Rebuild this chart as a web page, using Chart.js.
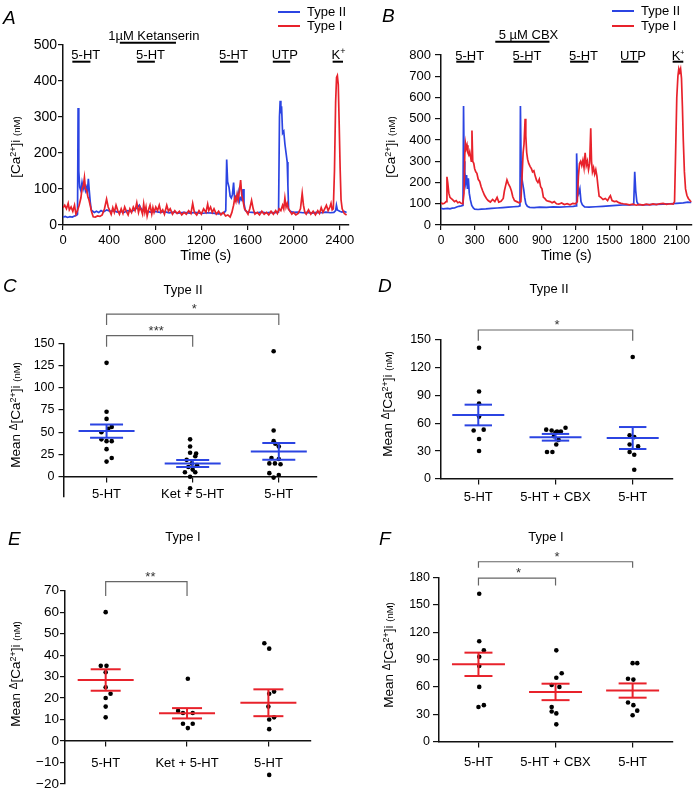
<!DOCTYPE html>
<html>
<head>
<meta charset="utf-8">
<title>Ca2+ responses of type I and type II cells</title>
<script src="https://cdn.jsdelivr.net/npm/chart.js@4.4.1/dist/chart.umd.min.js"></script>
<style>
  body { margin: 0; background: #fff; }
  #fig { position: relative; width: 700px; height: 793px; overflow: hidden; background: #fff; }
  #fig canvas { position: absolute; }
</style>
</head>
<body>
<div id="fig">
  <canvas id="chartA" width="370" height="270" style="left:0;top:0"></canvas>
  <canvas id="chartB" width="350" height="270" style="left:350px;top:0"></canvas>
  <canvas id="chartC" width="350" height="250" style="left:0;top:270px"></canvas>
  <canvas id="chartD" width="350" height="250" style="left:350px;top:270px"></canvas>
  <canvas id="chartE" width="350" height="273" style="left:0;top:520px"></canvas>
  <canvas id="chartF" width="350" height="273" style="left:350px;top:520px"></canvas>
</div>
<script>
const FONT = "'Liberation Sans', Arial, Helvetica, sans-serif";
const BLUE = "#2b44e2";
const RED = "#e8222b";
const INK = "#111";

// ---- A: ketanserin run, [time s, Ca nM]
const aTypeII = [[0,22],[20,24],[40,21],[60,23],[80,22],[100,25],[118,27],[126,30],[131,325],[137,150],[145,105],[155,95],[165,118],[175,100],[185,112],[195,95],[205,105],[212,92],[220,128],[228,95],[236,65],[245,42],[258,38],[272,35],[290,38],[310,35],[330,40],[350,36],[380,42],[410,38],[440,40],[470,36],[500,38],[530,35],[560,40],[590,37],[620,42],[645,48],[662,55],[678,45],[700,40],[730,38],[760,36],[800,38],[840,35],[880,37],[920,34],[960,36],[1000,33],[1050,35],[1100,33],[1150,35],[1200,32],[1250,34],[1300,33],[1350,31],[1395,33],[1412,40],[1420,182],[1428,120],[1440,105],[1450,80],[1460,75],[1470,85],[1480,118],[1488,75],[1500,80],[1510,70],[1520,90],[1530,65],[1540,75],[1550,70],[1562,100],[1570,60],[1582,40],[1600,36],[1640,35],[1680,34],[1720,36],[1760,34],[1800,35],[1840,34],[1870,36],[1878,300],[1884,345],[1890,310],[1896,330],[1905,255],[1915,260],[1925,225],[1935,200],[1945,175],[1951,110],[1957,45],[1970,38],[2000,35],[2040,36],[2080,34],[2120,35],[2160,33],[2200,35],[2240,34],[2280,36],[2320,34],[2350,35],[2365,40],[2372,55],[2380,42],[2400,38],[2420,36],[2440,38],[2460,35]];
const aTypeI = [[0,48],[15,55],[30,45],[45,60],[55,42],[70,50],[85,38],[100,55],[112,30],[125,40],[140,55],[155,75],[165,100],[177,110],[186,132],[195,100],[205,97],[215,80],[225,70],[235,56],[248,37],[262,23],[280,22],[300,25],[320,24],[340,28],[360,45],[378,72],[392,50],[405,40],[418,30],[432,48],[445,35],[460,55],[475,40],[490,30],[505,45],[520,32],[535,50],[550,38],[565,28],[580,45],[595,35],[610,50],[625,40],[640,62],[655,35],[667,50],[680,40],[690,30],[700,58],[710,35],[720,50],[730,25],[745,45],[755,55],[770,30],[780,48],[790,35],[805,50],[820,40],[835,55],[850,35],[865,42],[880,30],[900,55],[915,38],[930,45],[950,30],[970,40],[990,32],[1010,38],[1030,28],[1050,35],[1070,30],[1090,40],[1110,32],[1125,60],[1140,35],[1160,28],[1180,40],[1200,30],[1220,45],[1240,35],[1255,58],[1265,40],[1280,50],[1295,35],[1310,45],[1330,30],[1350,38],[1370,28],[1390,35],[1410,25],[1430,28],[1450,22],[1465,35],[1480,55],[1490,75],[1500,65],[1510,85],[1520,70],[1530,95],[1541,125],[1550,85],[1560,70],[1575,45],[1590,38],[1605,30],[1620,45],[1636,68],[1650,45],[1665,30],[1685,35],[1705,28],[1725,38],[1745,30],[1765,35],[1785,28],[1805,38],[1825,30],[1845,40],[1860,32],[1875,45],[1890,40],[1905,55],[1915,45],[1925,75],[1935,50],[1945,60],[1955,45],[1970,38],[1985,30],[2000,35],[2020,28],[2040,32],[2060,45],[2075,88],[2086,55],[2098,35],[2110,30],[2130,42],[2150,30],[2170,38],[2190,28],[2210,40],[2225,32],[2240,48],[2255,35],[2270,45],[2285,55],[2300,40],[2315,50],[2325,60],[2335,42],[2345,45],[2355,150],[2365,340],[2373,410],[2380,415],[2388,390],[2396,280],[2404,160],[2412,70],[2422,45],[2440,32],[2460,28]];
const aTicksX = [0, 400, 800, 1200, 1600, 2000, 2400];
const aTicksY = [0, 100, 200, 300, 400, 500];
const aDrugs = [
  { label: "5-HT", from: 81, to: 238 },
  { label: "5-HT", from: 643, to: 797 },
  { label: "5-HT", from: 1362, to: 1519 },
  { label: "UTP", from: 1820, to: 1971 },
  { label: "K+", from: 2339, to: 2429 }
];
const aBlocker = { label: "1\u00b5M Ketanserin", from: 493, to: 980, at: 788 };

// ---- B: carbenoxolone run
const bTypeII = [[0,78],[20,76],[40,77],[60,78],[80,76],[100,79],[120,80],[140,85],[160,88],[180,90],[196,92],[201,560],[206,300],[212,250],[220,200],[228,235],[236,170],[244,220],[252,150],[262,118],[274,92],[288,80],[300,75],[330,73],[360,75],[400,76],[450,78],[500,80],[550,82],[600,84],[650,86],[690,88],[704,90],[708,560],[714,300],[721,220],[730,190],[738,165],[746,130],[756,100],[770,88],[790,83],[830,82],[880,84],[940,83],[1000,85],[1060,84],[1120,86],[1180,88],[1204,90],[1209,337],[1218,185],[1228,150],[1238,170],[1248,110],[1260,95],[1280,85],[1320,84],[1380,86],[1440,88],[1500,90],[1560,92],[1620,94],[1680,95],[1718,96],[1727,250],[1736,160],[1746,110],[1760,96],[1800,95],[1860,96],[1920,97],[1980,98],[2040,100],[2100,102],[2160,104],[2200,108],[2232,106]];
const bTypeI = [[0,105],[15,100],[30,102],[45,110],[53,227],[60,200],[70,150],[80,130],[90,125],[105,118],[120,110],[135,115],[150,105],[165,108],[180,102],[195,100],[205,150],[212,330],[218,384],[225,360],[232,375],[240,340],[248,330],[256,345],[264,320],[270,300],[276,445],[283,300],[292,290],[300,265],[310,250],[320,243],[332,215],[345,205],[358,180],[372,160],[388,140],[405,125],[420,115],[440,108],[460,120],[480,110],[500,130],[515,108],[535,112],[555,125],[565,160],[578,190],[588,212],[600,195],[615,180],[628,160],[640,133],[655,115],[675,110],[695,105],[712,110],[722,220],[732,340],[740,380],[750,500],[756,420],[764,340],[772,310],[782,290],[795,275],[806,265],[816,250],[828,255],[840,230],[852,210],[864,200],[876,215],[888,180],[900,170],[913,130],[925,125],[940,115],[955,112],[973,110],[990,105],[1010,110],[1030,100],[1050,98],[1075,104],[1100,96],[1125,100],[1150,95],[1175,102],[1200,100],[1215,110],[1225,230],[1235,290],[1245,300],[1255,280],[1265,305],[1275,270],[1285,340],[1295,280],[1305,300],[1315,260],[1325,290],[1335,455],[1342,300],[1350,250],[1360,270],[1370,240],[1380,260],[1390,230],[1400,180],[1410,135],[1425,130],[1445,120],[1465,125],[1485,115],[1500,130],[1510,138],[1525,115],[1545,110],[1565,112],[1585,105],[1605,102],[1625,100],[1650,98],[1680,95],[1710,98],[1740,93],[1770,97],[1800,94],[1830,98],[1860,95],[1890,99],[1920,96],[1950,100],[1980,102],[2010,97],[2040,100],[2070,98],[2082,110],[2092,350],[2102,600],[2112,700],[2120,735],[2128,720],[2136,735],[2144,690],[2152,560],[2160,400],[2170,250],[2180,170],[2192,140],[2205,125],[2220,115],[2232,108]];
const bTicksX = [0, 300, 600, 900, 1200, 1500, 1800, 2100];
const bTicksY = [0, 100, 200, 300, 400, 500, 600, 700, 800];
const bDrugs = [
  { label: "5-HT", from: 136, to: 297 },
  { label: "5-HT", from: 647, to: 810 },
  { label: "5-HT", from: 1151, to: 1314 },
  { label: "UTP", from: 1605, to: 1759 },
  { label: "K+", from: 2065, to: 2160 }
];
const bBlocker = { label: "5 \u00b5M CBX", from: 484, to: 967, at: 780 };

// ---- C-F: mean delta Ca per cell
const ketGroups = ["5-HT", "Ket + 5-HT", "5-HT"];
const cbxGroups = ["5-HT", "5-HT + CBX", "5-HT"];

const cCells = [
  [128, 73, 65, 56, 54, 50, 42, 40, 40, 31, 21, 17],
  [42, 34, 27, 26, 23, 19, 15, 13, 11, 8, 5, 5, 0, -13],
  [141, 52, 40, 37, 34, 21, 20, 15, 15, 14, 4, 2, -1]
];
const cJitter = [
  [0, 0, 0, 0.06, 0.02, -0.06, -0.06, 0, 0.06, 0, 0.06, 0],
  [-0.03, -0.03, -0.03, 0.04, 0.03, -0.07, -0.01, 0.05, -0.05, 0, -0.09, 0.03, -0.03, -0.03],
  [-0.06, -0.06, -0.06, -0.04, 0, -0.085, 0, -0.11, -0.045, 0.02, -0.11, 0, -0.06]
];
const cMean = [51.3, 14.8, 28.5];
const cSem = [7.4, 4.0, 9.3];
const cTicksY = [0, 25, 50, 75, 100, 125, 150];
const cSig = [
  { from: 1, to: 2, top: 158.6, foot: 146, text: "***" },
  { from: 1, to: 3, top: 182.7, foot: 170.6, text: "*" }
];

const dCells = [
  [141, 94, 81, 67, 53, 52, 43, 30],
  [55, 53, 52, 51, 51, 50, 46, 42, 37, 29, 29],
  [131, 47, 45, 37, 35, 29, 26, 10]
];
const dJitter = [
  [0.01, 0.01, 0.01, 0.01, 0.07, -0.06, 0.01, 0.01],
  [0.13, -0.12, -0.05, 0.02, 0.07, 0, -0.02, 0.04, 0.01, -0.11, -0.04],
  [0, -0.04, 0.02, -0.04, 0.07, -0.04, 0.02, 0.02]
];
const dMean = [68.7, 44.8, 44];
const dSem = [11.1, 3.6, 11.8];
const dTicksY = [0, 30, 60, 90, 120, 150];
const dSig = [{ from: 1, to: 3, top: 160, foot: 148.5, text: "*" }];

const eCells = [
  [60, 35, 35, 32, 25, 22, 20, 16, 11],
  [29, 14, 13, 13, 8, 8, 6],
  [45.5, 43, 23, 22, 16, 11, 10, 5.5, -15.8]
];
const eJitter = [
  [0, -0.06, 0.01, 0, 0, 0.06, 0, 0, 0],
  [0.01, -0.11, -0.05, 0.07, -0.05, 0.07, 0.01],
  [-0.05, 0.01, 0.07, 0.01, 0, 0.07, 0.01, 0.01, 0.01]
];
const eMean = [28.4, 12.9, 17.8];
const eSem = [5.0, 2.4, 6.25];
const eTicksY = [-20, -10, 0, 10, 20, 30, 40, 50, 60, 70];
const eSig = [{ from: 1, to: 2, top: 74.2, foot: 67.5, text: "**" }];

const fCells = [
  [162, 110, 100, 93, 83, 60, 40, 38],
  [100, 75, 70, 62, 60, 38, 33, 31, 19],
  [86, 86, 69, 68, 43, 40, 34, 29]
];
const fJitter = [
  [0.01, 0.01, 0.07, 0.01, 0.01, 0.01, 0.07, 0],
  [0.01, 0.08, 0.01, -0.05, 0.05, -0.05, -0.05, 0.01, 0.01],
  [0, 0.06, -0.06, 0.01, -0.06, 0.01, 0.06, 0]
];
const fMean = [84.7, 54.5, 56];
const fSem = [12.8, 9, 7.8];
const fTicksY = [0, 30, 60, 90, 120, 150, 180];
const fSig = [
  { from: 1, to: 2, top: 179, foot: 171, text: "*" },
  { from: 1, to: 3, top: 197, foot: 190.5, text: "*" }
];

Chart.defaults.font.family = FONT;
Chart.defaults.color = "#000";

const CA_TITLE = [["[Ca", 13.5], ["2+", 9, 4.5], ["]i ", 13.5], ["(nM)", 9.5]];
const MEAN_TITLE = [["Mean ", 13.5], ["\u0394", 10, 3], ["[Ca", 13.5], ["2+", 9, 4.5], ["]i ", 13.5], ["(nM)", 9.5]];

// draws runs of text with their own size / raise, left to right
function richText(ctx, parts, x, y, align) {
  let w = 0;
  parts.forEach(p => { ctx.font = p[1] + "px " + FONT; w += ctx.measureText(p[0]).width; });
  let cx = align === "center" ? x - w / 2 : x;
  parts.forEach(p => {
    ctx.font = p[1] + "px " + FONT;
    ctx.fillText(p[0], cx, y - (p[2] || 0));
    cx += ctx.measureText(p[0]).width;
  });
}

function drugParts(label, small) {
  if (label === "K+") return [["K", 13], ["+", small, 5]];
  return [[label, 13]];
}

function makeDeco(d) {
  return {
    id: "deco",
    afterDraw(chart) {
      const ctx = chart.ctx;
      const sx = chart.scales.x, sy = chart.scales.y;
      ctx.save();
      ctx.fillStyle = "#000";
      ctx.textAlign = "left";
      ctx.textBaseline = "alphabetic";

      ctx.font = "italic 19px " + FONT;
      ctx.fillText(d.letter[0], d.letter[1], d.letter[2]);

      if (d.title) {
        ctx.font = "13px " + FONT;
        ctx.textAlign = "center";
        ctx.fillText(d.title[0], d.title[1], d.title[2]);
        ctx.textAlign = "left";
      }

      ctx.save();
      ctx.translate(d.yTitle[1], d.yTitle[2]);
      ctx.rotate(-Math.PI / 2);
      richText(ctx, d.yTitle[0], 0, 5, "center");
      ctx.restore();

      (d.legend || []).forEach(l => {
        ctx.strokeStyle = l.color;
        ctx.lineWidth = 2;
        ctx.beginPath();
        ctx.moveTo(l.x, l.y);
        ctx.lineTo(l.x + 22, l.y);
        ctx.stroke();
        ctx.font = "13px " + FONT;
        ctx.textBaseline = "middle";
        ctx.fillText(l.text, l.x + 29, l.y);
        ctx.textBaseline = "alphabetic";
      });

      (d.drugs || []).forEach(g => {
        const x0 = sx.getPixelForValue(g.from), x1 = sx.getPixelForValue(g.to);
        ctx.strokeStyle = "#000";
        ctx.lineWidth = 2;
        ctx.beginPath();
        ctx.moveTo(x0, g.barY);
        ctx.lineTo(x1, g.barY);
        ctx.stroke();
        if (g.at != null) richText(ctx, [[g.label, 13]], sx.getPixelForValue(g.at), g.textY, "center");
        else richText(ctx, drugParts(g.label, d.plusSize), x0 - 1, g.textY, "left");
      });

      (d.brackets || []).forEach(b => {
        const x0 = sx.getPixelForValue(b.from), x1 = sx.getPixelForValue(b.to);
        const yt = sy.getPixelForValue(b.top), yf = sy.getPixelForValue(b.foot);
        ctx.strokeStyle = "#666";
        ctx.lineWidth = 1.2;
        ctx.beginPath();
        ctx.moveTo(x0, yf);
        ctx.lineTo(x0, yt);
        ctx.lineTo(x1, yt);
        ctx.lineTo(x1, yf);
        ctx.stroke();
        ctx.font = "13px " + FONT;
        ctx.fillStyle = "#333";
        ctx.fillText(b.text, (x0 + x1) / 2 - 1, yt - 1);
        ctx.fillStyle = "#000";
      });
      ctx.restore();
    }
  };
}

function yAxis(c) {
  return {
    type: "linear",
    min: c.yMin,
    max: c.yMax,
    afterBuildTicks: s => { s.ticks = c.ticksY.map(v => ({ value: v })); },
    afterFit: s => { s.width = c.left; },
    ticks: { font: { size: c.yFont }, padding: c.yPad, autoSkip: false, callback: v => String(v).replace("-", "\u2212") },
    grid: { drawOnChartArea: false, tickLength: c.tl, color: INK, lineWidth: 1.2 },
    border: { color: INK, width: 1.5 }
  };
}

function traceChart(id, c) {
  return new Chart(document.getElementById(id), {
    type: "line",
    data: {
      datasets: [
        { label: "Type II", data: c.typeII.map(p => ({ x: p[0], y: p[1] })), borderColor: BLUE, borderWidth: 1.7, pointRadius: 0, order: 2 },
        { label: "Type I", data: c.typeI.map(p => ({ x: p[0], y: p[1] })), borderColor: RED, borderWidth: 1.7, pointRadius: 0, order: 1 }
      ]
    },
    options: {
      responsive: false,
      animation: false,
      events: [],
      layout: { autoPadding: false, padding: { top: c.top, right: c.right, left: 0, bottom: 0 } },
      scales: {
        x: {
          type: "linear",
          min: 0,
          max: c.xMax,
          afterBuildTicks: s => { s.ticks = c.ticksX.map(v => ({ value: v })); },
          afterFit: s => { s.height = c.bottom; },
          ticks: { font: { size: c.xFont }, padding: 3, maxRotation: 0, autoSkip: false, callback: v => String(v) },
          title: { display: true, text: "Time (s)", font: { size: 14 }, padding: { top: 0, bottom: 5 } },
          grid: { drawOnChartArea: false, tickLength: 5, color: INK, lineWidth: 1.2 },
          border: { color: INK, width: 1.5 }
        },
        y: yAxis(c)
      },
      plugins: { legend: { display: false }, tooltip: { enabled: false } }
    },
    plugins: [makeDeco(c.deco)]
  });
}

function dotChart(id, c) {
  const cells = [];
  c.cells.forEach((g, i) => g.forEach((v, j) => cells.push({ x: i + 1 + c.jitter[i][j], y: v })));
  const means = c.mean.map((m, i) => ({ x: i + 1, y: m }));
  const caps = [], stems = [];
  c.mean.forEach((m, i) => {
    caps.push({ x: i + 1, y: m + c.sem[i] }, { x: i + 1, y: m - c.sem[i] });
    stems.push({ x: i + 1, y: m - c.sem[i] }, { x: i + 1, y: m + c.sem[i] }, { x: i + 1, y: null });
  });
  return new Chart(document.getElementById(id), {
    type: "scatter",
    data: {
      datasets: [
        { data: means, pointStyle: "line", pointRadius: c.meanHalf, borderColor: c.color, borderWidth: 2, order: 1, clip: false },
        { data: caps, pointStyle: "line", pointRadius: c.capHalf, borderColor: c.color, borderWidth: 2, order: 1, clip: false },
        { type: "line", data: stems, borderColor: c.color, borderWidth: 2, pointRadius: 0, spanGaps: false, order: 2, clip: false },
        { data: cells, pointRadius: 2.3, backgroundColor: "#000", borderWidth: 0, order: 3, clip: false }
      ]
    },
    options: {
      responsive: false,
      animation: false,
      events: [],
      layout: { autoPadding: false, padding: { top: c.top, right: c.right, left: 0, bottom: c.bottom } },
      scales: {
        x: {
          type: "linear",
          min: c.xMin,
          max: c.xMax,
          position: { y: 0 },
          afterBuildTicks: s => { s.ticks = c.groups.map((g, i) => ({ value: i + 1 })); },
          afterFit: s => { s.height = 0; },
          ticks: { font: { size: 13 }, padding: c.xPad, maxRotation: 0, autoSkip: false, callback: v => c.groups[Math.round(v) - 1] },
          grid: { drawOnChartArea: false, tickLength: 5, color: INK, lineWidth: 1.2 },
          border: { color: INK, width: 1.5 }
        },
        y: yAxis(c)
      },
      plugins: { legend: { display: false }, tooltip: { enabled: false } }
    },
    plugins: [makeDeco(c.deco)]
  });
}

traceChart("chartA", {
  typeII: aTypeII, typeI: aTypeI, ticksX: aTicksX, ticksY: aTicksY,
  xMax: 2475, yMin: 0, yMax: 500, left: 63, top: 45, right: 21.7, bottom: 45,
  xFont: 13, yFont: 14, yPad: 1, tl: 5,
  deco: {
    letter: ["A", 3, 24],
    yTitle: [CA_TITLE, 15, 147],
    plusSize: 9,
    legend: [{ color: BLUE, text: "Type II", x: 278, y: 12 }, { color: RED, text: "Type I", x: 278, y: 26 }],
    drugs: aDrugs.map(g => Object.assign({ barY: 61.7, textY: 59.3 }, g))
      .concat([Object.assign({ barY: 42.7, textY: 40 }, aBlocker)])
  }
});

traceChart("chartB", {
  typeII: bTypeII, typeI: bTypeI, ticksX: bTicksX, ticksY: bTicksY,
  xMax: 2235, yMin: 0, yMax: 800, left: 91, top: 55, right: 8.3, bottom: 45,
  xFont: 12, yFont: 13, yPad: 4, tl: 6,
  deco: {
    letter: ["B", 32, 22],
    yTitle: [CA_TITLE, 40, 147],
    plusSize: 7,
    legend: [{ color: BLUE, text: "Type II", x: 262, y: 11 }, { color: RED, text: "Type I", x: 262, y: 26 }],
    drugs: bDrugs.map(g => Object.assign({ barY: 61.7, textY: 59.5 }, g))
      .concat([Object.assign({ barY: 41.7, textY: 39 }, bBlocker)])
  }
});

dotChart("chartC", {
  cells: cCells, jitter: cJitter, mean: cMean, sem: cSem, groups: ketGroups, ticksY: cTicksY, color: BLUE,
  xMin: 0.5, xMax: 3.44, yMin: -22, yMax: 150, left: 63.5, top: 73.3, right: 33.3, bottom: 23.7,
  yFont: 12.5, yPad: 4, tl: 5, xPad: 4.5, meanHalf: 28, capHalf: 16.5,
  deco: { letter: ["C", 3, 22], title: ["Type II", 183, 23.5], yTitle: [MEAN_TITLE, 15, 145], brackets: cSig }
});

dotChart("chartD", {
  cells: dCells, jitter: dJitter, mean: dMean, sem: dSem, groups: cbxGroups, ticksY: dTicksY, color: BLUE,
  xMin: 0.517, xMax: 3.518, yMin: 0, yMax: 150, left: 91, top: 69.3, right: 27.3, bottom: 41,
  yFont: 12.5, yPad: 4, tl: 6, xPad: 6, meanHalf: 26, capHalf: 13.7,
  deco: { letter: ["D", 28, 22], title: ["Type II", 199, 23], yTitle: [MEAN_TITLE, 37, 134], brackets: dSig }
});

dotChart("chartE", {
  cells: eCells, jitter: eJitter, mean: eMean, sem: eSem, groups: ketGroups, ticksY: eTicksY, color: RED,
  xMin: 0.5, xMax: 3.52, yMin: -20, yMax: 70, left: 65, top: 70.7, right: 39.3, bottom: 9,
  yFont: 13.5, yPad: 1, tl: 5, xPad: 10, meanHalf: 28, capHalf: 15,
  deco: { letter: ["E", 8, 25], title: ["Type I", 183, 20.7], yTitle: [MEAN_TITLE, 15, 154], brackets: eSig }
});

dotChart("chartF", {
  cells: fCells, jitter: fJitter, mean: fMean, sem: fSem, groups: cbxGroups, ticksY: fTicksY, color: RED,
  xMin: 0.488, xMax: 3.52, yMin: 0, yMax: 180, left: 89, top: 57.3, right: 27.3, bottom: 51.3,
  yFont: 12.5, yPad: 3, tl: 6, xPad: 8, meanHalf: 26.5, capHalf: 14,
  deco: { letter: ["F", 29, 25], title: ["Type I", 196, 20.5], yTitle: [MEAN_TITLE, 38, 135], brackets: fSig }
});
</script>
</body>
</html>
